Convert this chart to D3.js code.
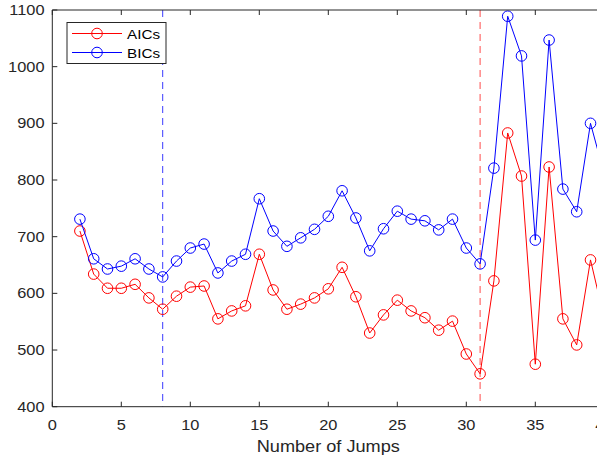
<!DOCTYPE html>
<html><head><meta charset="utf-8">
<script src="https://cdn.jsdelivr.net/npm/d3@7"></script>
<style>body{margin:0;background:#fff}svg{display:block}</style>
</head><body>
<svg id="chart" width="597" height="461"></svg>
<script>
const jumps = [2,3,4,5,6,7,8,9,10,11,12,13,14,15,16,17,18,19,20,21,22,23,24,25,26,27,28,29,30,31,32,33,34,35,36,37,38,39,40];
const aics = [710,634,609,609,616,592,572,595,611,613,555,569,578,669,606,572,581,592,608,646,594,530,562,588,569,557,535,551,493,458,622,883,807,475,823,555,509,659,555];
const bics = [731,661,643,648,661,643,629,657,680,687,636,657,669,767,710,683,698,713,736,781,733,675,714,745,731,728,712,731,680,652,821,1089,1019,694,1047,784,744,900,810];
const seriesNames = ["AICs","BICs"];
const seriesColors = ["#ff0000","#0000ff"];
const markLines = [{x:8,color:"#3a3aff"},{x:31,color:"#ff4a4a"}];
const xTicks = [0,5,10,15,20,25,30,35,40];
const yTicks = [400,500,600,700,800,900,1000,1100];
const xLabel = "Number of Jumps";

const svg = d3.select("#chart");
const L = 52.3, R = 604.3, T = 10, B = 406.7;
const x = d3.scaleLinear().domain([0,40]).range([L,R]);
const y = d3.scaleLinear().domain([400,1100]).range([B,T]);
const axisColor = "#262626";
const font = "'Liberation Sans', Arial, Helvetica, sans-serif";
const SX = 1.17;

svg.append("defs").append("clipPath").attr("id","clip")
  .append("rect").attr("x",L).attr("y",T).attr("width",R-L).attr("height",B-T);

const plot = svg.append("g").attr("clip-path","url(#clip)");

// dashed vertical lines
markLines.forEach(m => {
  plot.append("line").attr("x1",x(m.x)).attr("x2",x(m.x)).attr("y1",y(1100)).attr("y2",y(400))
    .attr("stroke",m.color).attr("stroke-width",1).attr("stroke-dasharray","7,5");
});

const data = [aics,bics];
data.forEach((vals,i) => {
  const pts = jumps.map((j,k)=>[j,vals[k]]);
  plot.append("path").datum(pts)
    .attr("fill","none").attr("stroke",seriesColors[i]).attr("stroke-width",1)
    .attr("d", d3.line().x(d=>x(d[0])).y(d=>y(d[1])));
  plot.selectAll(null).data(pts).enter().append("circle")
    .attr("cx",d=>x(d[0])).attr("cy",d=>y(d[1])).attr("r",5.3)
    .attr("fill","none").attr("stroke",seriesColors[i]).attr("stroke-width",1);
});

// axes box
const ax = svg.append("g").attr("stroke",axisColor).attr("stroke-width",1).attr("fill","none");
ax.append("line").attr("x1",L).attr("x2",R).attr("y1",B).attr("y2",B);
ax.append("line").attr("x1",L).attr("x2",R).attr("y1",T).attr("y2",T);
ax.append("line").attr("x1",L).attr("x2",L).attr("y1",T).attr("y2",B);
ax.append("line").attr("x1",R).attr("x2",R).attr("y1",T).attr("y2",B);

xTicks.forEach(t => {
  const px = x(t);
  ax.append("line").attr("x1",px).attr("x2",px).attr("y1",B).attr("y2",B-5);
  ax.append("line").attr("x1",px).attr("x2",px).attr("y1",T).attr("y2",T+5);
  svg.append("text").attr("transform",`translate(${px},430) scale(${SX},1)`)
    .attr("text-anchor","middle").attr("font-family",font).attr("font-size",14)
    .attr("fill",axisColor).text(t);
});
yTicks.forEach(t => {
  const py = y(t);
  ax.append("line").attr("x1",L).attr("x2",L+5).attr("y1",py).attr("y2",py);
  ax.append("line").attr("x1",R).attr("x2",R-5).attr("y1",py).attr("y2",py);
  svg.append("text").attr("transform",`translate(44.5,${py+5}) scale(${SX},1)`)
    .attr("text-anchor","end").attr("font-family",font).attr("font-size",14)
    .attr("fill",axisColor).text(t);
});

svg.append("text").attr("transform",`translate(${(L+R)/2},452) scale(1.1,1)`)
  .attr("text-anchor","middle").attr("font-family",font).attr("font-size",16.5)
  .attr("fill",axisColor).text(xLabel);

// legend
const lg = svg.append("g");
lg.append("rect").attr("x",67).attr("y",22.5).attr("width",99).attr("height",41)
  .attr("fill","#fff").attr("stroke",axisColor).attr("stroke-width",1);
seriesNames.forEach((n,i) => {
  const cy = 33.5 + i*19;
  lg.append("line").attr("x1",72).attr("x2",122).attr("y1",cy).attr("y2",cy)
    .attr("stroke",seriesColors[i]).attr("stroke-width",1);
  lg.append("circle").attr("cx",97).attr("cy",cy).attr("r",5.3)
    .attr("fill","none").attr("stroke",seriesColors[i]).attr("stroke-width",1);
  lg.append("text").attr("transform",`translate(127,${cy+5}) scale(1.13,1)`)
    .attr("font-family",font).attr("font-size",13.5).attr("fill","#000").text(n);
});
</script>
</body></html>
